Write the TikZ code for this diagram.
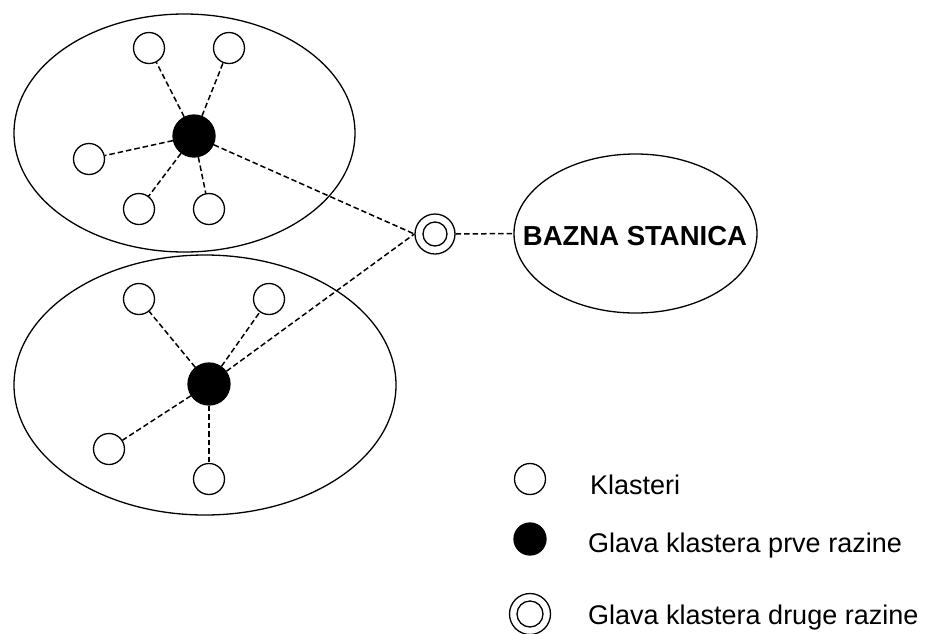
\documentclass[tikz,border=0pt]{standalone}
\usepackage{fontspec}
\setmainfont{Liberation Sans}
\usetikzlibrary{shapes.geometric}
\tikzset{
  lw/.style={line width=1.3pt},
  member/.style={circle,draw,lw,minimum size=31pt,inner sep=0pt,fill=white},
  headnode/.style={circle,draw,lw,fill=black,minimum size=42pt,inner sep=0pt},
  outerring/.style={circle,draw,lw,minimum size=40pt,inner sep=0pt},
  innerring/.style={circle,draw,lw,minimum size=24pt,inner sep=0pt},
  cluster/.style={ellipse,draw,lw,inner sep=0pt},
  link/.style={draw,line width=1.5pt,dash pattern=on 5.5pt off 3pt},
  legendtext/.style={anchor=base west,inner sep=0pt,font=\fontsize{27}{32}\selectfont}
}
\begin{document}
\begin{tikzpicture}[x=1pt,y=-1pt]
\useasboundingbox (0,0) rectangle (927,633);
% clusters
\node[cluster,minimum width=341pt,minimum height=238pt] (c1) at (184.5,133) {};
\node[cluster,minimum width=382pt,minimum height=260pt] (c2) at (205,385) {};
\node[cluster,minimum width=243pt,minimum height=159pt] (bs) at (635.5,233.5) {};
\node[inner sep=0pt,font=\bfseries\fontsize{27.5}{30}\selectfont] (bst) at (635,236) {BAZNA STANICA};
% top cluster
\node[headnode] (h1) at (194,136) {};
\node[member] (a1) at (149,48) {};
\node[member] (a2) at (229,48) {};
\node[member] (a3) at (89,159) {};
\node[member] (a4) at (139,209) {};
\node[member] (a5) at (209,209) {};
% bottom cluster
\node[headnode] (h2) at (209,384) {};
\node[member] (b1) at (139,299) {};
\node[member] (b2) at (269,299) {};
\node[member] (b3) at (109,449) {};
\node[member] (b4) at (209,479) {};
% second-level head
\node[outerring] (dbl) at (435,234) {};
\node[innerring] (dblin) at (435,234) {};
% links
\foreach \m in {a1,a2,a3,a4,a5} \path[link] (h1) -- (\m);
\foreach \m in {b1,b2,b3,b4} \path[link] (h2) -- (\m);
\path[link] (h1) -- (dbl.west);
\path[link] (h2) -- (dbl.west);
\path[link] (dbl.east) -- (bs.west);
% legend
\node[member] (l1) at (530,479) {};
\node[headnode,minimum size=32pt] (l2) at (530,539) {};
\node[outerring,minimum size=41pt] (l3) at (530,614) {};
\node[innerring,minimum size=26pt] (l3in) at (530,614) {};
\node[legendtext] (t1) at (590,494) {Klasteri};
\node[legendtext] (t2) at (588,552) {Glava klastera prve razine};
\node[legendtext] (t3) at (588,624) {Glava klastera druge razine};
\end{tikzpicture}
\end{document}
